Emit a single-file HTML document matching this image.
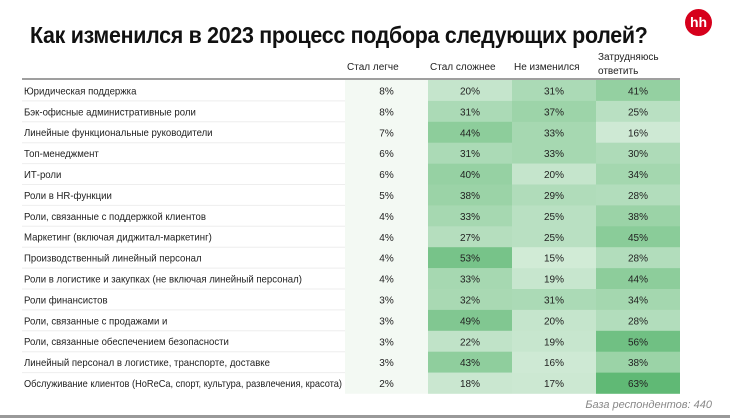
<!DOCTYPE html>
<html><head><meta charset="utf-8"><style>
body{margin:0;width:730px;height:418px;background:#fff;font-family:"Liberation Sans",sans-serif;overflow:hidden;position:relative}
.t{position:absolute;white-space:nowrap}
</style></head><body>
<div class="t" style="left:30px;top:22px;font-size:23px;font-weight:bold;color:#111;letter-spacing:-0.3px;transform:scaleX(0.93);transform-origin:0 0">Как изменился в 2023 процесс подбора следующих ролей?</div>
<div style="position:absolute;left:685px;top:9px;width:27px;height:27px;border-radius:50%;background:#d6001c;color:#fff;font-weight:bold;font-size:14px;line-height:27px;text-align:center">hh</div>
<svg id="tbl" width="730" height="418" style="position:absolute;left:0;top:0"></svg>
<div class="t" style="right:18px;top:399px;font-size:11px;font-style:italic;color:#888">База респондентов: 440</div>
<div style="position:absolute;left:0;top:415px;width:730px;height:3px;background:#999"></div>
<script>
const columns=["Стал легче","Стал сложнее","Не изменился","Затрудняюсь ответить"];
const roles=["Юридическая поддержка","Бэк-офисные административные роли","Линейные функциональные руководители","Топ-менеджмент","ИТ-роли","Роли в HR-функции","Роли, связанные с поддержкой клиентов","Маркетинг (включая диджитал-маркетинг)","Производственный линейный персонал","Роли в логистике и закупках (не включая линейный персонал)","Роли финансистов","Роли, связанные с продажами и","Роли, связанные обеспечением безопасности","Линейный персонал в логистике, транспорте, доставке","Обслуживание клиентов (HoReCa, спорт, культура, развлечения, красота)"];
const easier=[8,8,7,6,6,5,4,4,4,4,3,3,3,3,2];
const harder=[20,31,44,31,40,38,33,27,53,33,32,49,22,43,18];
const unchanged=[31,37,33,33,20,29,25,25,15,19,31,20,19,16,17];
const unsure=[41,25,16,30,34,28,38,45,28,44,34,28,56,38,63];
const series=[easier,harder,unchanged,unsure];
const svg=document.getElementById('tbl'),NS="http://www.w3.org/2000/svg";
const top0=80,rowH=20.9,colX=[345,428,512,596],colW=[83,84,84,84];
function yOf(i){return top0+i*rowH;}
function color(v){const t=Math.min(v/63,1);const a=[244,250,244],b=[96,185,117];return `rgb(${a.map((c,k)=>Math.round(c+(b[k]-c)*t)).join(',')})`;}
function mk(tag,at,txt){const e=document.createElementNS(NS,tag);for(const k in at)e.setAttribute(k,at[k]);if(txt!=null)e.textContent=txt;svg.appendChild(e);return e;}
columns.forEach((c,j)=>{
 const words=c.split(' ');
 if(j==3){const h1=mk('text',{x:colX[j]+2,y:60,'font-size':10,fill:'#222'},words[0]);
  const h2=mk('text',{x:colX[j]+2,y:74,'font-size':10,fill:'#222'},words[1]);}
 else{const h=mk('text',{x:colX[j]+2,y:70,'font-size':10,fill:'#222'},c);}
});
const hl=mk('line',{x1:22,x2:680,y1:79,y2:79,stroke:'#666','stroke-width':1.2});

roles.forEach((r,i)=>{
 const y=yOf(i);
 if(i>0){const sl=mk('line',{x1:22,x2:345,y1:y,y2:y,stroke:'#eee','stroke-width':1});}
 const lt=mk('text',{x:24,y:y+rowH/2+4,'font-size':10,fill:'#222',transform:`translate(24 0) scale(0.96 1) translate(-24 0)`},r);
 
 if(lt.getComputedTextLength()*0.96>318){lt.setAttribute('textLength',318/0.96);lt.setAttribute('lengthAdjust','spacingAndGlyphs');}
 series.forEach((s,j)=>{
  const v=s[i];
  const rc=mk('rect',{x:colX[j],y:y,width:colW[j],height:rowH+0.3,fill:j==0?'#f3f9f3':color(v)});
  
  const tx=mk('text',{x:colX[j]+colW[j]/2,y:y+rowH/2+4,'font-size':10,fill:'#222','text-anchor':'middle'},v+'%');
  
 });
});
</script>
</body></html>
